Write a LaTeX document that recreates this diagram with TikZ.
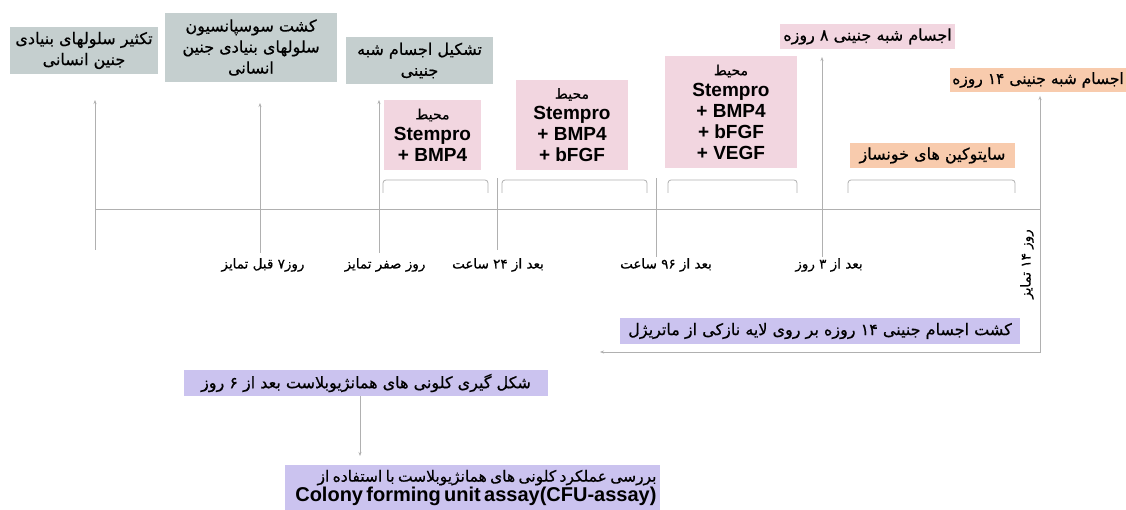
\documentclass[tikz,border=0pt]{standalone}
\usepackage{fontspec}
\setmainfont{Liberation Sans}
\newfontfamily\arabicfont[Script=Arabic,FakeBold=0.6]{DejaVu Sans}
\TeXXeTstate=1
\usetikzlibrary{arrows.meta}
\newcommand\FA[1]{{\arabicfont\beginR #1\endR}}
\definecolor{gbox}{HTML}{C5CFCF}
\definecolor{pbox}{HTML}{F2D6E0}
\definecolor{obox}{HTML}{F8CBAD}
\definecolor{vbox}{HTML}{CBC3EF}
\definecolor{lnc}{HTML}{B0B0B0}
\begin{document}
\begin{tikzpicture}[x=1pt,y=-1pt,
  every node/.style={inner sep=0pt, outer sep=0pt, text=black},
  pfont/.style={font=\fontsize{16}{21}\selectfont},
  gbx/.style={fill=gbox, align=center, pfont},
  pbx/.style={fill=pbox, align=center, font=\fontsize{19}{21}\selectfont\bfseries},
  obx/.style={fill=obox, align=center, pfont},
  vbx/.style={fill=vbox, align=center, pfont},
  lbl/.style={font=\fontsize{13.5}{16}\selectfont, anchor=center},
  tick/.style={draw=lnc, line width=0.8pt},
  uparrow/.style={tick, -{Stealth[length=4pt,width=3pt]}},
  brk/.style={draw=lnc, line width=0.8pt, rounded corners=3pt}
]
\fill[white] (0,0) rectangle (1126,510);
\useasboundingbox (0,0) rectangle (1126,510);

% top gray boxes
\node[gbx, minimum width=148pt, minimum height=47pt] (g1) at (84,50.5)
  {\FA{تکثیر سلولهای بنیادی}\\\FA{جنین انسانی}};
\node[gbx, minimum width=172pt, minimum height=69pt] (g2) at (251,47.5)
  {\FA{کشت سوسپانسیون}\\\FA{سلولهای بنیادی جنین}\\\FA{انسانی}};
\node[gbx, minimum width=147pt, minimum height=47pt] (g3) at (419.5,60.5)
  {\FA{تشکیل اجسام شبه}\\\FA{جنینی}};

% pink medium boxes
\node[pbx, minimum width=97pt, minimum height=70pt] (p1) at (432.5,135)
  {{\fontsize{14}{21}\selectfont\mdseries\FA{محیط}}\\Stempro\\+ BMP4};
\node[pbx, minimum width=112pt, minimum height=90pt] (p2) at (572,125)
  {{\fontsize{14}{21}\selectfont\mdseries\FA{محیط}}\\Stempro\\+ BMP4\\+ bFGF};
\node[pbx, minimum width=132pt, minimum height=112pt] (p3) at (731,112)
  {{\fontsize{14}{21}\selectfont\mdseries\FA{محیط}}\\Stempro\\+ BMP4\\+ bFGF\\+ VEGF};

\node[fill=pbox, pfont, minimum width=175pt, minimum height=25pt] (e8) at (867.5,36.5)
  {\FA{اجسام شبه جنینی ۸ روزه}};
\node[fill=obox, font=\fontsize{15.5}{20}\selectfont, minimum width=176pt, minimum height=24pt] (e14) at (1038,80)
  {\FA{اجسام شبه جنینی ۱۴ روزه}};
\node[obx, minimum width=165pt, minimum height=25pt] (cyt) at (932.5,155.5)
  {\FA{سایتوکین های خونساز}};

% timeline
\coordinate (tlL) at (95,209);
\coordinate (tlR) at (1040,209);
\draw[tick] (tlL) -- (tlR);

\coordinate (b1) at (95,250);   \coordinate (a1) at (95,100);
\coordinate (b2) at (260,253);  \coordinate (a2) at (260,103);
\coordinate (b3) at (379,253);  \coordinate (a3) at (379,100);
\coordinate (b4) at (497,250);  \coordinate (a4) at (497,178);
\coordinate (b5) at (656,257);  \coordinate (a5) at (656,178);
\coordinate (b6) at (822,257);  \coordinate (a6) at (822,57);
\coordinate (a7) at (1040,96);  \coordinate (c7) at (600,352);

\draw[uparrow] (b1) -- (a1);
\draw[uparrow] (b2) -- (a2);
\draw[uparrow] (b3) -- (a3);
\draw[tick] (b4) -- (a4);
\draw[tick] (b5) -- (a5);
\draw[uparrow] (b6) -- (a6);
\draw[tick, {Stealth[length=4pt,width=3pt]}-{Stealth[length=4pt,width=3pt]}] (c7) -| (a7);

% brackets
\draw[brk] (383,193) -- (383,180) -- (488,180) -- (488,193);
\draw[brk] (502,193) -- (502,180) -- (647,180) -- (647,193);
\draw[brk] (668,193) -- (668,180) -- (797,180) -- (797,193);
\draw[brk] (848,193) -- (848,180) -- (1015,180) -- (1015,193);

% labels under timeline
\node[lbl] (l1) at (263,265) {\FA{روز۷ قبل تمایز}};
\node[lbl] (l2) at (385,265) {\FA{روز صفر تمایز}};
\node[lbl] (l3) at (498,265) {\FA{بعد از ۲۴ ساعت}};
\node[lbl] (l4) at (666,265) {\FA{بعد از ۹۶ ساعت}};
\node[lbl] (l5) at (829,265) {\FA{بعد از ۳ روز}};
\node[lbl, rotate=90] (l6) at (1027,264) {\FA{روز ۱۴ تمایز}};

% lower boxes
\node[vbx, minimum width=400pt, minimum height=26pt] (v1) at (820,331)
  {\FA{کشت اجسام جنینی ۱۴ روزه بر روی لایه نازکی از ماتریژل}};
\node[vbx, minimum width=364pt, minimum height=26pt] (v2) at (366,383)
  {\FA{شکل گیری کلونی های همانژیوبلاست بعد از ۶ روز}};
\node[fill=vbox, minimum width=375pt, minimum height=46pt, align=right, text width=368pt] (v3) at (472.5,488)
  {\fontsize{15.5}{19}\selectfont\FA{بررسی عملکرد کلونی های همانژیوبلاست با استفاده از}\\[1pt]
   {\fontsize{20}{20}\selectfont\bfseries Colony forming unit assay(CFU-assay)}};

\coordinate (v2b) at (360,396);
\coordinate (v3t) at (360,456);
\draw[uparrow] (v2b) -- (v3t);
\end{tikzpicture}
\end{document}
